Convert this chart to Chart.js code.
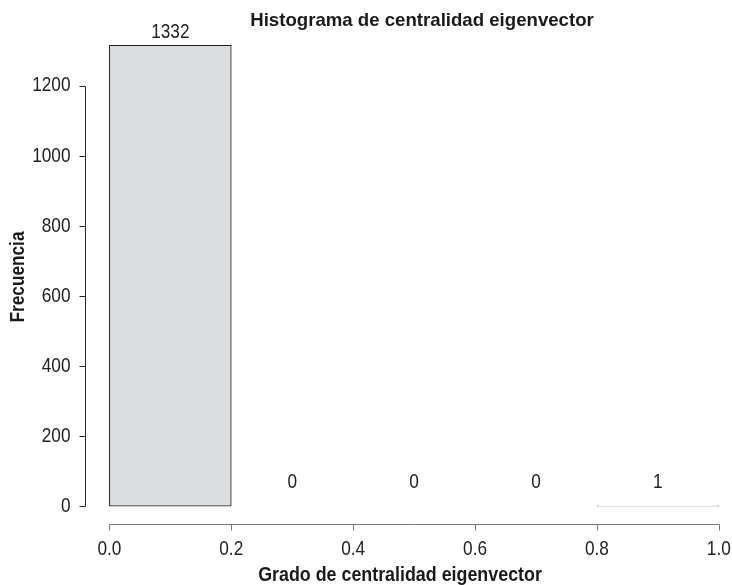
<!DOCTYPE html>
<html>
<head>
<meta charset="utf-8">
<script src="https://cdn.jsdelivr.net/npm/chart.js@4.4.0/dist/chart.umd.min.js"></script>
<style>
  body { margin: 0; background: #fff; }
  #wrap { width: 732px; height: 585px; }
</style>
</head>
<body>
<div id="wrap"><canvas id="hist"></canvas></div>
<script>
// histogram bins (mid points) and their counts
const binMids = [0.1, 0.3, 0.5, 0.7, 0.9];
const counts = [1332, 0, 0, 0, 1];
const xTicks = [0, 0.2, 0.4, 0.6, 0.8, 1.0];
const yTicks = [0, 200, 400, 600, 800, 1000, 1200];
const titleText = "Histograma de centralidad eigenvector";
const xTitle = "Grado de centralidad eigenvector";
const yTitle = "Frecuencia";

const FONT = '"Liberation Sans", Arial, sans-serif';

// narrow text: the original uses a condensed face, so squeeze horizontally
function narrowText(ctx, text, x, y, sx) {
    ctx.save();
    ctx.translate(x, y);
    ctx.scale(sx, 1);
    ctx.fillText(text, 0, 0);
    ctx.restore();
}

// R-style axes, labels and titles drawn on top of the chart
const rAxes = {
    id: 'rAxes',
    afterDatasetsDraw(chart) {
        const {ctx, chartArea: a} = chart;
        // bars taller than the plot area still get their top edge
        ctx.save();
        ctx.strokeStyle = '#1a1a1a';
        ctx.lineWidth = 1;
        chart.getDatasetMeta(0).data.forEach(bar => {
            if (bar.y < a.top) {
                ctx.beginPath();
                ctx.moveTo(bar.x - bar.width / 2, a.top + 0.5);
                ctx.lineTo(bar.x + bar.width / 2, a.top + 0.5);
                ctx.stroke();
            }
        });
        ctx.restore();
    },
    afterDraw(chart) {
        const {ctx, chartArea: a} = chart;
        const xs = chart.scales.x, ys = chart.scales.y;
        ctx.save();

        // y axis
        const ax = Math.round(a.left) + 0.5;
        ctx.strokeStyle = '#222';
        ctx.lineWidth = 1;
        ctx.beginPath();
        ctx.moveTo(ax, Math.round(ys.getPixelForValue(yTicks[0])) + 0.5);
        ctx.lineTo(ax, Math.round(ys.getPixelForValue(yTicks[yTicks.length - 1])) + 0.5);
        yTicks.forEach(v => {
            const py = Math.round(ys.getPixelForValue(v)) + 0.5;
            ctx.moveTo(ax, py);
            ctx.lineTo(ax - 6, py);
        });
        ctx.stroke();
        ctx.fillStyle = '#222';
        ctx.font = '21px ' + FONT;
        ctx.textAlign = 'right';
        ctx.textBaseline = 'middle';
        yTicks.forEach(v => narrowText(ctx, String(v), ax - 15, ys.getPixelForValue(v), 0.82));

        // x axis
        const ay = Math.round(a.bottom) - 0.5;
        ctx.strokeStyle = '#777';
        ctx.beginPath();
        ctx.moveTo(Math.round(xs.getPixelForValue(xTicks[0])) + 0.5, ay);
        ctx.lineTo(Math.round(xs.getPixelForValue(xTicks[xTicks.length - 1])) + 0.5, ay);
        xTicks.forEach(v => {
            const px = Math.round(xs.getPixelForValue(v)) + 0.5;
            ctx.moveTo(px, ay);
            ctx.lineTo(px, ay + 6);
        });
        ctx.stroke();
        ctx.textAlign = 'center';
        xTicks.forEach(v => narrowText(ctx, v.toFixed(1), xs.getPixelForValue(v), ay + 25, 0.82));

        // count labels over the bins
        binMids.forEach((m, i) => {
            const py = Math.max(ys.getPixelForValue(counts[i]) - 24, a.top - 13);
            narrowText(ctx, String(counts[i]), xs.getPixelForValue(m), py, 0.82);
        });

        // titles
        ctx.fillStyle = '#1a1a1a';
        ctx.font = 'bold 19px ' + FONT;
        narrowText(ctx, titleText, 422, 21, 0.98);
        ctx.font = 'bold 21px ' + FONT;
        narrowText(ctx, xTitle, 400, 575, 0.85);
        ctx.translate(18, 277);
        ctx.rotate(-Math.PI / 2);
        narrowText(ctx, yTitle, 0, 0, 0.82);

        ctx.restore();
    }
};

new Chart(document.getElementById('hist'), {
    type: 'bar',
    data: {
        datasets: [{
            data: binMids.map((m, i) => ({x: m, y: counts[i]})),
            backgroundColor: '#dcdddf',
            borderColor: '#1a1a1a',
            borderWidth: 1,
            borderSkipped: false,
            categoryPercentage: 1,
            barPercentage: 1
        }]
    },
    options: {
        responsive: true,
        maintainAspectRatio: false,
        animation: false,
        layout: {padding: {left: 85, right: 1, top: 45, bottom: 60}},
        scales: {
            x: {type: 'linear', min: -0.04, max: 1.02, offset: false, display: false},
            y: {min: -54, max: 1316, display: false}
        },
        plugins: {
            legend: {display: false},
            tooltip: {enabled: false}
        }
    },
    plugins: [rAxes]
});
</script>
</body>
</html>
